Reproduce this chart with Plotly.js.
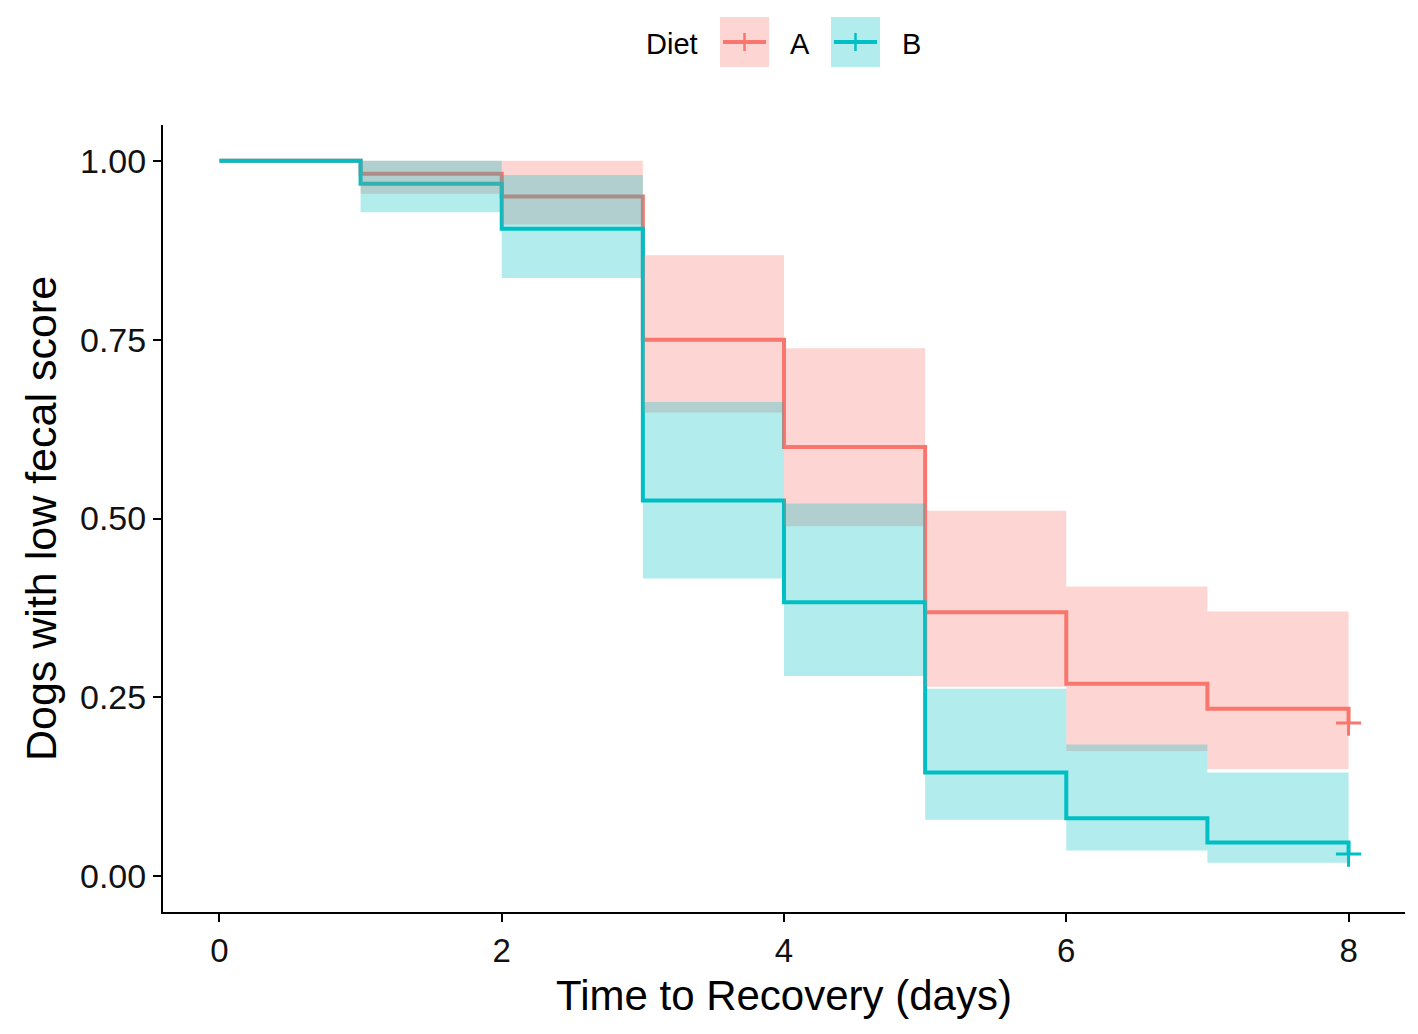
<!DOCTYPE html>
<html>
<head>
<meta charset="utf-8">
<script src="https://cdn.plot.ly/plotly-3.0.1.min.js"></script>
<style>html,body{margin:0;padding:0;background:#fff;}#chart{width:1418px;height:1034px;}</style>
</head>
<body>
<div id="chart"></div>
<script>
// Event times (days)
const times = [0, 1, 2, 3, 4, 5, 6, 7, 8];
// Survival estimates (value from each time onward)
const survA = [1.000, 0.982, 0.950, 0.750, 0.600, 0.369, 0.269, 0.234, 0.214];
const survB = [1.000, 0.968, 0.905, 0.525, 0.383, 0.145, 0.081, 0.047, 0.031];
// Confidence bands for intervals [t_i, t_i+1)
const lowerA = [1.000, 0.954, 0.911, 0.648, 0.489, 0.265, 0.175, 0.150];
const upperA = [1.000, 1.000, 1.000, 0.868, 0.738, 0.511, 0.405, 0.370];
const lowerB = [1.000, 0.928, 0.836, 0.416, 0.280, 0.079, 0.036, 0.019];
const upperB = [1.000, 1.000, 0.980, 0.663, 0.521, 0.262, 0.184, 0.145];
// Censoring marks
const censTime = [8];
const censA = [0.214];
const censB = [0.031];
const groups = ['A', 'B'];
const legendTitle = 'Diet';

const colA = '#F8766D', colB = '#00BFC4';
const fillA = 'rgba(248,118,109,0.3)', fillB = 'rgba(0,191,196,0.3)';
const LW = 4;

function bandPolygon(t, lo, up) {
  const xs = [], ys = [];
  for (let i = 0; i < up.length; i++) { xs.push(t[i], t[i + 1]); ys.push(up[i], up[i]); }
  for (let i = lo.length - 1; i >= 0; i--) { xs.push(t[i + 1], t[i]); ys.push(lo[i], lo[i]); }
  return {x: xs, y: ys};
}
const bA = bandPolygon(times, lowerA, upperA);
const bB = bandPolygon(times, lowerB, upperB);

const traces = [
  {x: times, y: survA, mode: 'lines', line: {color: colA, width: LW, shape: 'hv'}, showlegend: false, hoverinfo: 'skip'},
  {x: times, y: survB, mode: 'lines', line: {color: colB, width: LW, shape: 'hv'}, showlegend: false, hoverinfo: 'skip'},
  {x: bA.x, y: bA.y, mode: 'lines', fill: 'toself', fillcolor: fillA, line: {width: 0, color: 'rgba(0,0,0,0)'}, showlegend: false, hoverinfo: 'skip'},
  {x: bB.x, y: bB.y, mode: 'lines', fill: 'toself', fillcolor: fillB, line: {width: 0, color: 'rgba(0,0,0,0)'}, showlegend: false, hoverinfo: 'skip'},
  {x: censTime, y: censA, mode: 'markers', marker: {symbol: 'cross-thin', size: 18, line: {color: colA, width: 3}}, showlegend: false, hoverinfo: 'skip'},
  {x: censTime, y: censB, mode: 'markers', marker: {symbol: 'cross-thin', size: 18, line: {color: colB, width: 3}}, showlegend: false, hoverinfo: 'skip'}
];

// Legend drawn as layout decoration (pixel -> paper conversion)
const M = {l: 163, r: 13, t: 125, b: 122}, W = 1418, H = 1034;
const pw = W - M.l - M.r, ph = H - M.t - M.b;
const px = v => (v - M.l) / pw;
const py = v => (H - M.b - v) / ph;
const legCY = 42;
const keys = [
  {x0: 720, fill: fillA, col: colA, label: groups[0], lx: 788},
  {x0: 831, fill: fillB, col: colB, label: groups[1], lx: 900}
];
const shapes = [], annotations = [];
annotations.push({xref: 'paper', yref: 'paper', x: px(644), y: py(legCY + 2), xanchor: 'left', yanchor: 'middle',
  text: legendTitle, showarrow: false, font: {size: 29, color: '#000'}});
keys.forEach(k => {
  shapes.push({type: 'rect', xref: 'paper', yref: 'paper', x0: px(k.x0), x1: px(k.x0 + 49), y0: py(legCY - 25), y1: py(legCY + 25),
    fillcolor: k.fill, line: {width: 0}, layer: 'above'});
  shapes.push({type: 'line', xref: 'paper', yref: 'paper', x0: px(k.x0 + 3), x1: px(k.x0 + 46), y0: py(legCY), y1: py(legCY),
    line: {color: k.col, width: LW}, layer: 'above'});
  shapes.push({type: 'line', xref: 'paper', yref: 'paper', x0: px(k.x0 + 24.5), x1: px(k.x0 + 24.5), y0: py(legCY - 9), y1: py(legCY + 9),
    line: {color: k.col, width: 2.5}, layer: 'above'});
  annotations.push({xref: 'paper', yref: 'paper', x: px(k.lx), y: py(legCY + 2), xanchor: 'left', yanchor: 'middle',
    text: k.label, showarrow: false, font: {size: 29, color: '#000'}});
});

const font = {family: 'Liberation Sans, Arial, sans-serif', color: '#000'};
const layout = {
  width: W, height: H,
  margin: M,
  paper_bgcolor: '#fff', plot_bgcolor: '#fff',
  font: font,
  showlegend: false,
  shapes: shapes,
  annotations: annotations,
  xaxis: {
    range: [-0.4, 8.4], tickvals: [0, 2, 4, 6, 8], ticktext: ['0', '2', '4', '6', '8'],
    showgrid: false, zeroline: false, showline: true, linecolor: '#000', linewidth: 2,
    ticks: 'outside', ticklen: 8, tickwidth: 2, tickcolor: '#000',
    tickfont: {size: 33, color: '#111'},
    title: {text: 'Time to Recovery (days)', font: {size: 42, color: '#000'}, standoff: 13}
  },
  yaxis: {
    range: [-0.05, 1.05], tickvals: [0, 0.25, 0.5, 0.75, 1], ticktext: ['0.00', '0.25', '0.50', '0.75', '1.00'],
    showgrid: false, zeroline: false, showline: true, linecolor: '#000', linewidth: 2,
    ticks: 'outside', ticklen: 8, tickwidth: 2, tickcolor: '#000',
    tickfont: {size: 34, color: '#111'},
    title: {text: 'Dogs with low fecal score', font: {size: 43, color: '#000'}, standoff: 10}
  }
};

Plotly.newPlot('chart', traces, layout, {staticPlot: true, displayModeBar: false});
</script>
</body>
</html>
